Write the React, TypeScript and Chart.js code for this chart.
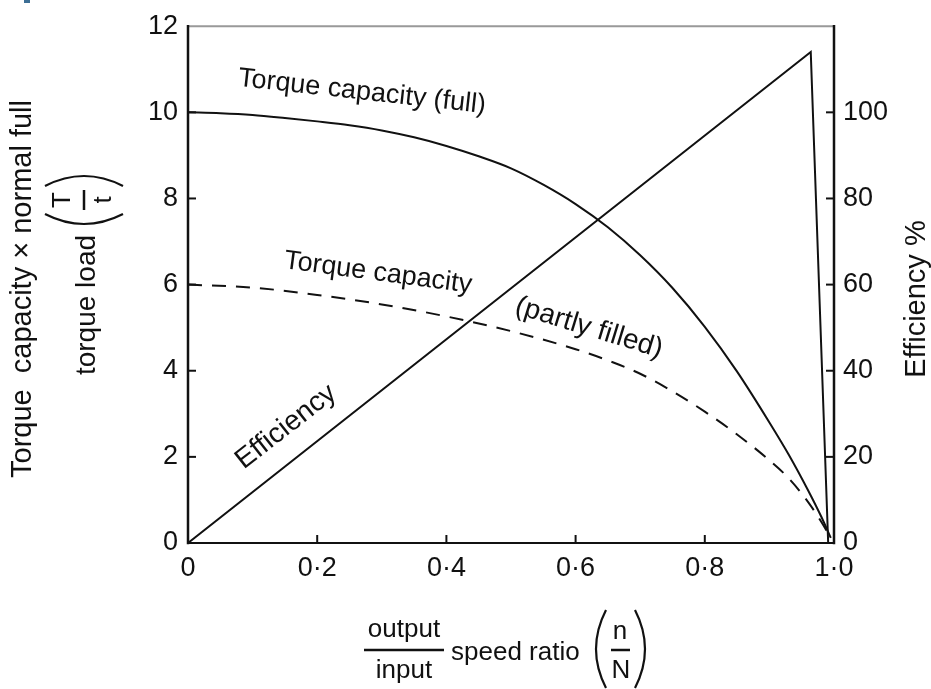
import React, { useEffect, useRef } from 'react';
import { Chart, registerables } from 'chart.js';
Chart.register(...registerables);

// Torque capacity (full) — x: speed ratio, y: T/t
const fullX = [0, 0.05, 0.1, 0.15, 0.2, 0.25, 0.3, 0.35, 0.4, 0.45, 0.5, 0.55, 0.6, 0.65, 0.7, 0.75, 0.8, 0.85, 0.9, 0.93, 0.96, 0.98, 0.995];
const fullY = [10, 9.98, 9.94, 9.87, 9.79, 9.7, 9.58, 9.42, 9.22, 8.98, 8.7, 8.32, 7.87, 7.33, 6.68, 5.92, 5.02, 3.98, 2.8, 2.05, 1.22, 0.62, 0.12];

// Torque capacity (partly filled)
const partX = [0, 0.1, 0.2, 0.3, 0.4, 0.5, 0.6, 0.65, 0.7, 0.75, 0.8, 0.85, 0.9, 0.93, 0.96, 0.98, 0.995];
const partY = [6, 5.93, 5.76, 5.54, 5.26, 4.92, 4.5, 4.24, 3.93, 3.52, 3.05, 2.52, 1.92, 1.5, 0.95, 0.5, 0.12];

// Efficiency %
const effX = [0, 0.964, 0.991];
const effY = [0, 114, 0];

const xTicks = [0, 0.2, 0.4, 0.6, 0.8, 1.0];
const xTickLabels = ['0', '0·2', '0·4', '0·6', '0·8', '1·0'];
const leftTicks = [0, 2, 4, 6, 8, 10, 12];
const rightTicks = [0, 20, 40, 60, 80, 100];

const FONT = '"Liberation Sans", Arial, sans-serif';
const INK = '#111';

function pts(xs: number[], ys: number[]) {
  return xs.map((x, i) => ({ x, y: ys[i] }));
}

const overlay = {
  id: 'overlay',
  afterDraw(chart: any) {
    const { ctx, chartArea, scales } = chart;
    const { left, right, top, bottom } = chartArea;
    const x = scales.x, y = scales.y, y1 = scales.y1;
    ctx.save();
    // scan artifact
    ctx.fillStyle = '#3d6f95';
    ctx.fillRect(24, 0, 6, 3);

    // frame
    ctx.lineCap = 'square';
    ctx.strokeStyle = '#999';
    ctx.lineWidth = 2;
    ctx.beginPath(); ctx.moveTo(left, top); ctx.lineTo(right, top); ctx.stroke();
    ctx.strokeStyle = INK;
    ctx.lineWidth = 2.5;
    ctx.beginPath(); ctx.moveTo(left, top); ctx.lineTo(left, bottom); ctx.stroke();
    ctx.beginPath(); ctx.moveTo(right, top); ctx.lineTo(right, bottom); ctx.stroke();
    ctx.lineWidth = 2;
    ctx.beginPath(); ctx.moveTo(left, bottom); ctx.lineTo(right, bottom); ctx.stroke();

    // inward ticks
    ctx.lineWidth = 2;
    ctx.lineCap = 'butt';
    xTicks.forEach((v) => {
      if (v === 0 || v === 1) return;
      const px = x.getPixelForValue(v);
      ctx.beginPath(); ctx.moveTo(px, bottom); ctx.lineTo(px, bottom - 8); ctx.stroke();
    });
    leftTicks.forEach((v) => {
      if (v === 0 || v === 12) return;
      const py = y.getPixelForValue(v);
      ctx.beginPath(); ctx.moveTo(left, py); ctx.lineTo(left + 8, py); ctx.stroke();
    });
    rightTicks.forEach((v) => {
      if (v === 0) return;
      const py = y1.getPixelForValue(v);
      ctx.beginPath(); ctx.moveTo(right, py); ctx.lineTo(right - 8, py); ctx.stroke();
    });

    ctx.fillStyle = INK;
    ctx.textAlign = 'center';
    ctx.textBaseline = 'middle';
    const rot = (t: string, cx: number, cy: number, deg: number, size: number) => {
      ctx.save();
      ctx.translate(cx, cy);
      ctx.rotate((deg * Math.PI) / 180);
      ctx.font = `${size}px ${FONT}`;
      ctx.fillText(t, 0, 0);
      ctx.restore();
    };

    // curve annotations
    rot('Torque capacity (full)', 362, 92, 6.3, 27);
    rot('Torque capacity', 378, 273, 7.5, 27);
    rot('(partly filled)', 589, 328, 17, 28);
    rot('Efficiency', 286, 427, -38, 28);

    // right title
    rot('Efficiency %', 917, 299, -90, 29);

    // left title
    rot('Torque  capacity × normal full', 23, 289, -90, 29);
    rot('torque load', 87, 305, -90, 28);
    rot('T', 63, 200, -90, 26);
    rot('t', 104, 200, -90, 26);
    ctx.lineWidth = 2.5;
    ctx.beginPath(); ctx.moveTo(84, 190); ctx.lineTo(84, 210); ctx.stroke();
    ctx.lineWidth = 2.2;
    ctx.beginPath(); ctx.moveTo(45, 214); ctx.quadraticCurveTo(84, 234, 123, 214); ctx.stroke();
    ctx.beginPath(); ctx.moveTo(45, 186); ctx.quadraticCurveTo(84, 166, 123, 186); ctx.stroke();

    // x title
    ctx.font = `26px ${FONT}`;
    ctx.fillText('output', 404, 630);
    ctx.fillText('input', 404, 671);
    ctx.textAlign = 'left';
    ctx.fillText('speed ratio', 451, 653);
    ctx.textAlign = 'center';
    ctx.lineWidth = 2.5;
    ctx.beginPath(); ctx.moveTo(364, 650); ctx.lineTo(444, 650); ctx.stroke();
    ctx.fillText('n', 620, 632);
    ctx.fillText('N', 621, 671);
    ctx.beginPath(); ctx.moveTo(611, 650); ctx.lineTo(630, 650); ctx.stroke();
    ctx.lineWidth = 2.2;
    ctx.beginPath(); ctx.moveTo(606, 610); ctx.quadraticCurveTo(586, 649, 606, 688); ctx.stroke();
    ctx.beginPath(); ctx.moveTo(635, 610); ctx.quadraticCurveTo(655, 649, 635, 688); ctx.stroke();

    ctx.restore();
  },
};

export default function App() {
  const ref = useRef<HTMLCanvasElement | null>(null);
  useEffect(() => {
    document.body.style.margin = '0';
    document.body.style.background = '#fff';
    const canvas = ref.current!;
    const tickFont = { family: FONT, size: 27 };
    const chart = new Chart(canvas, {
      type: 'scatter',
      data: {
        datasets: [
          {
            data: pts(fullX, fullY),
            showLine: true,
            borderColor: INK,
            borderWidth: 2,
            pointRadius: 0,
            cubicInterpolationMode: 'monotone',
            yAxisID: 'y',
          },
          {
            data: pts(partX, partY),
            showLine: true,
            borderColor: INK,
            borderWidth: 2,
            borderDash: [14, 10],
            pointRadius: 0,
            cubicInterpolationMode: 'monotone',
            yAxisID: 'y',
          },
          {
            data: pts(effX, effY),
            showLine: true,
            borderColor: INK,
            borderWidth: 2,
            pointRadius: 0,
            tension: 0,
            yAxisID: 'y1',
          },
        ],
      },
      options: {
        responsive: false,
        animation: false,
        events: [],
        layout: { padding: { top: 19, left: 0, right: 0, bottom: 0 } },
        plugins: { legend: { display: false }, tooltip: { enabled: false } },
        scales: {
          x: {
            type: 'linear',
            min: 0,
            max: 1,
            grid: { display: false, drawTicks: false },
            border: { display: false },
            afterBuildTicks: (s: any) => { s.ticks = xTicks.map((v) => ({ value: v })); },
            afterFit: (s: any) => { s.height = 146; },
            ticks: {
              padding: 9,
              color: INK,
              font: tickFont,
              maxRotation: 0,
              autoSkip: false,
              callback: (_v: any, i: number) => xTickLabels[i],
            },
          },
          y: {
            type: 'linear',
            position: 'left',
            min: 0,
            max: 12,
            grid: { display: false, drawTicks: false },
            border: { display: false },
            afterBuildTicks: (s: any) => { s.ticks = leftTicks.map((v) => ({ value: v })); },
            afterFit: (s: any) => { s.width = 188; },
            ticks: { padding: 10, color: INK, font: tickFont, autoSkip: false, callback: (v: any) => String(v) },
          },
          y1: {
            type: 'linear',
            position: 'right',
            min: 0,
            max: 120,
            grid: { display: false, drawTicks: false },
            border: { display: false },
            afterBuildTicks: (s: any) => { s.ticks = rightTicks.map((v) => ({ value: v })); },
            afterFit: (s: any) => { s.width = 97; },
            ticks: { padding: 9, color: INK, font: tickFont, autoSkip: false, callback: (v: any) => String(v) },
          },
        },
      },
      plugins: [overlay],
    } as any);
    return () => chart.destroy();
  }, []);
  return (
    <div style={{ width: 931, height: 689, background: '#fff' }}>
      <canvas ref={ref} width={931} height={689} style={{ display: 'block' }} />
    </div>
  );
}
